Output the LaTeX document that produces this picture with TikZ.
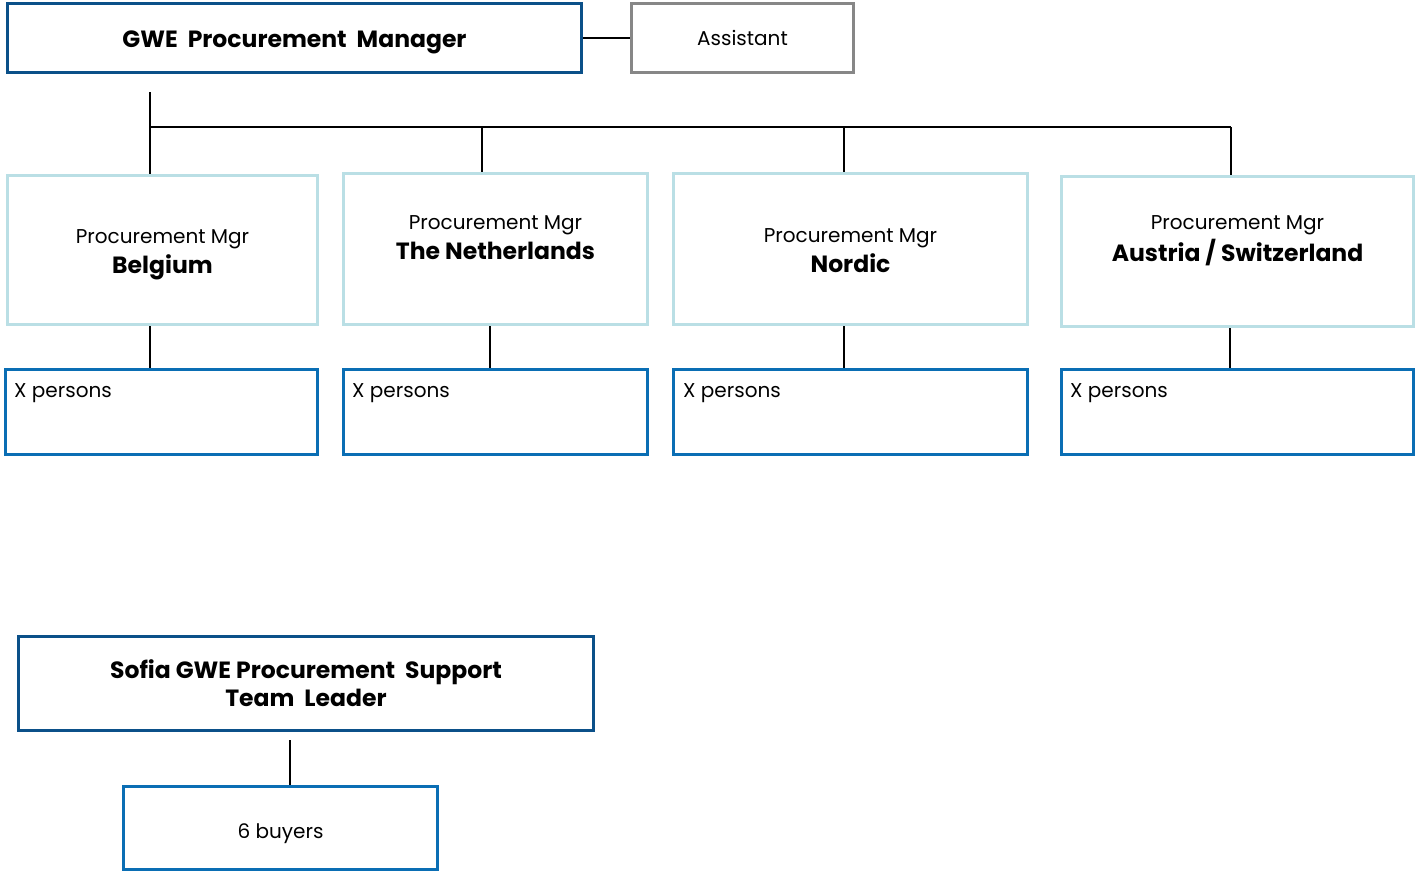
\documentclass[tikz,border=0pt]{standalone}
\usepackage{fontspec}
\setmainfont{Poppins}
\definecolor{dkblue}{HTML}{0B5089}
\definecolor{mdblue}{HTML}{0A6EB4}
\definecolor{ltblue}{HTML}{BADFE5}
\definecolor{grayb}{HTML}{878787}
\newcommand{\bigb}[1]{{\fontsize{23.5}{29}\selectfont\bfseries #1}}
\newcommand{\twol}[2]{\begin{tabular}{@{}c@{}}#1\\[1pt]\bigb{#2}\end{tabular}}
\begin{document}
\begin{tikzpicture}[x=1pt,y=-1pt,
  box/.style={draw, line width=3pt, fill=white, anchor=north west, inner sep=0pt, align=center},
  mgrbox/.style={box, draw=dkblue},
  asbox/.style={box, draw=grayb},
  regbox/.style={box, draw=ltblue},
  perbox/.style={box, draw=mdblue},
  conn/.style={draw=black, line width=1.5pt},
  bus/.style={draw=black, line width=2.8pt},
  tfont/.style={font=\fontsize{20}{29}\selectfont},
  bfont/.style={font=\fontsize{23.5}{28}\selectfont\bfseries},
  txt/.style={tfont, align=center, inner sep=0pt},
  btxt/.style={bfont, align=center, inner sep=0pt},
  xlab/.style={font=\fontsize{20}{24}\selectfont, anchor=base west, inner sep=0pt}
]
\useasboundingbox (0,0) rectangle (1416,873);

% top
\node[mgrbox, minimum width=574, minimum height=69,
  label={[btxt, yshift=-4pt]center:{GWE\ \ Procurement\ \ Manager}}] (mgr) at (6,2) {};
\node[asbox, minimum width=222, minimum height=69, tfont] (asst) at (630,2) {Assistant};
\draw[conn] (mgr.east) -- (asst.west);

% regional managers
\node[regbox, minimum width=310, minimum height=149,
  label={[txt, yshift=-3pt]center:{\twol{Procurement Mgr}{Belgium}}}] (r1) at (6,174) {};
\node[regbox, minimum width=304, minimum height=151,
  label={[txt, yshift=10.5pt]center:{\twol{Procurement Mgr}{The Netherlands}}}] (r2) at (342,172) {};
\node[regbox, minimum width=354, minimum height=151,
  label={[txt, yshift=-3pt]center:{\twol{Procurement Mgr}{Nordic}}}] (r3) at (672,172) {};
\node[regbox, minimum width=352, minimum height=150,
  label={[txt, yshift=11.5pt]center:{\twol{Procurement Mgr}{Austria / Switzerland}}}] (r4) at (1060,175) {};

% persons
\node[perbox, minimum width=312, minimum height=85] (p1) at (4,368) {};
\node[perbox, minimum width=304, minimum height=85] (p2) at (342,368) {};
\node[perbox, minimum width=354, minimum height=85] (p3) at (672,368) {};
\node[perbox, minimum width=352, minimum height=85] (p4) at (1060,368) {};
\node[xlab] (p1t) at (14,397) {X persons};
\node[xlab] (p2t) at (352,397) {X persons};
\node[xlab] (p3t) at (683,397) {X persons};
\node[xlab] (p4t) at (1070,397) {X persons};

% bus
\coordinate (top) at (150,92);
\coordinate (b1) at (150,127);
\coordinate (b2) at (482,127);
\coordinate (b3) at (844,127);
\coordinate (b4) at (1231,127);
\draw[conn] (top) -- (b1) -- (b1 |- r1.north);
\draw[bus] (b1) -- (b4);
\draw[conn] (b2) -- (b2 |- r2.north);
\draw[conn] (b3) -- (b3 |- r3.north);
\draw[bus] (b4) -- (b4 |- r4.north);

\coordinate (c1) at (150,0);
\coordinate (c2) at (490,0);
\coordinate (c3) at (844,0);
\coordinate (c4) at (1230,0);
\draw[conn] (c1 |- r1.south) -- (c1 |- p1.north);
\draw[conn] (c2 |- r2.south) -- (c2 |- p2.north);
\draw[conn] (c3 |- r3.south) -- (c3 |- p3.north);
\draw[conn] (c4 |- r4.south) -- (c4 |- p4.north);

% Sofia
\node[mgrbox, minimum width=575, minimum height=94, bfont] (sofia) at (17,635) {Sofia GWE Procurement\ \ Support\\Team\ \ Leader};
\node[perbox, minimum width=314, minimum height=83,
  label={[txt, yshift=-6pt]center:{6 buyers}}] (buy) at (122,785) {};
\coordinate (s1) at (290,740);
\draw[conn] (s1) -- (s1 |- buy.north);
\end{tikzpicture}
\end{document}
